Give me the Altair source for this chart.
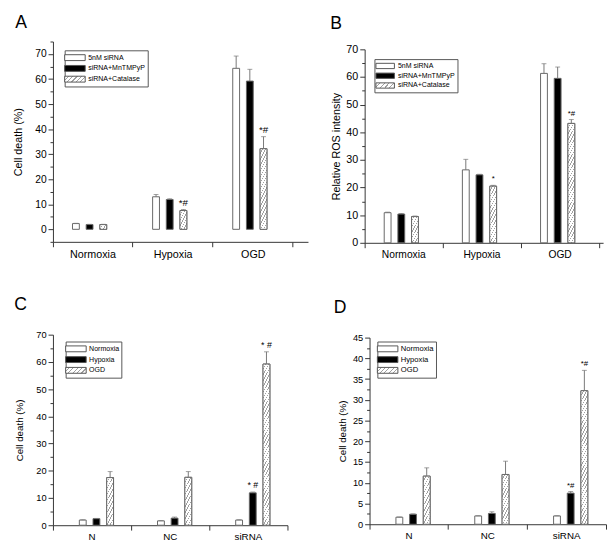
import json
import altair as alt

FONT = "Liberation Sans"
AXC = "#333333"
EDGE = "#666666"
ERRC = "#777777"
HATCH = "#a0a0a0"

# ---------------- data ----------------
# Panel A : cell death (%)
a_groups = ["Normoxia", "Hypoxia", "OGD"]
a_series = ["5nM siRNA", "siRNA+MnTMPyP", "siRNA+Catalase"]
a_sirna = [2.3, 13.0, 64.3]
a_sirna_err = [0.1, 0.9, 4.9]
a_mntmpyp = [1.9, 11.9, 59.2]
a_mntmpyp_err = [0.1, 0.3, 4.7]
a_catalase = [1.9, 7.5, 32.2]
a_catalase_err = [0.1, 0.4, 4.8]
a_catalase_ann = ["", "*#", "*#"]

# Panel B : relative ROS intensity
b_groups = ["Normoxia", "Hypoxia", "OGD"]
b_series = ["5nM siRNA", "siRNA+MnTMPyP", "siRNA+Catalase"]
b_sirna = [10.9, 26.4, 61.3]
b_sirna_err = [0.2, 3.8, 3.5]
b_mntmpyp = [10.4, 24.6, 59.5]
b_mntmpyp_err = [0.2, 0.2, 4.1]
b_catalase = [9.5, 20.5, 43.2]
b_catalase_err = [0.2, 0.3, 1.4]
b_catalase_ann = ["", "*", "*#"]

# Panel C : cell death (%)
c_groups = ["N", "NC", "siRNA"]
c_series = ["Normoxia", "Hypoxia", "OGD"]
c_normoxia = [1.9, 1.6, 1.9]
c_normoxia_err = [0.1, 0.1, 0.1]
c_hypoxia = [2.4, 2.6, 11.9]
c_hypoxia_err = [0.1, 0.4, 0.3]
c_ogd = [17.5, 17.6, 59.2]
c_ogd_err = [2.2, 2.1, 4.5]
c_hypoxia_ann = ["", "", "* #"]
c_ogd_ann = ["", "", "* #"]

# Panel D : cell death (%)
d_groups = ["N", "NC", "siRNA"]
d_series = ["Normoxia", "Hypoxia", "OGD"]
d_normoxia = [1.7, 2.0, 2.0]
d_normoxia_err = [0.05, 0.05, 0.05]
d_hypoxia = [2.4, 2.6, 7.5]
d_hypoxia_err = [0.1, 0.4, 0.4]
d_ogd = [11.6, 12.0, 32.2]
d_ogd_err = [2.0, 3.2, 4.9]
d_hypoxia_ann = ["", "", "*#"]
d_ogd_ann = ["", "", "*#"]


# ---------------- helpers ----------------
def hatch(w, h, period=6.0, line_frac=0.25):
    """Diagonal '/' hatch as a bounding-box linear gradient with hard stops."""
    ux, uy = 1.0 / h, 1.0 / w
    t = (ux + uy) / (ux * ux + uy * uy)
    n = max(1, int(round((w + h) / period)))
    stops = []
    for i in range(n):
        a = i / n
        b = (i + 1 - line_frac) / n
        c = (i + 1) / n
        stops += [
            {"offset": round(a, 5), "color": "white"},
            {"offset": round(b, 5), "color": "white"},
            {"offset": round(b, 5), "color": HATCH},
            {"offset": round(c, 5), "color": HATCH},
        ]
    return {"gradient": "linear", "x1": 0, "y1": 0,
            "x2": round(t * ux, 6), "y2": round(t * uy, 6), "stops": stops}


def panel(letter, groups, series, cols, errs, anns, hatched, y_domain, y_major,
          y_minor, y_title, W, H, top_gap, outer, bw, xlab, ylab, ttl, ann_size,
          leg, title_dx, title_off, y_title_pad):
    step = W / (len(groups) + 2 * outer)
    lo = (step - len(series) * bw) / 2
    hi = lo + len(series) * bw
    ppu = (H - top_gap) / (y_domain[1] - y_domain[0])
    rows = []
    for s, vals, ers, an in zip(series, cols, errs, anns):
        for g, v, e, t in zip(groups, vals, ers, an):
            fill = hatch(bw, v * ppu) if s == hatched else ("white" if s == series[0] else "black")
            rows.append({"group": g, "series": s, "value": v, "err": e,
                         "top": v + e, "ann": t, "fillv": fill})
    data = alt.Data(values=rows)

    leg_grad = hatch(leg["sw"], leg["sh"], period=4.5)
    leg_expr = "(" + json.dumps(leg_grad) + ")"

    xscale = alt.Scale(paddingInner=0, paddingOuter=outer, align=0)
    xaxis = alt.Axis(labelAngle=0, labelFont=FONT, labelFontSize=xlab,
                     labelColor="black", tickSize=5, tickColor=AXC,
                     domainColor=AXC, labelPadding=2, domain=True,
                     bandPosition=1, tickExtra=True, title=None)
    yaxis = alt.Axis(values=y_major, tickSize=5, tickColor=AXC,
                     domain=True, domainColor=AXC, labelOverlap=False,
                     labelFont=FONT, labelFontSize=ylab,
                     labelColor="black", labelPadding=2, title=y_title,
                     titleFont=FONT, titleFontSize=ttl,
                     titleFontWeight="normal", titleColor="black",
                     titlePadding=y_title_pad, orient="left")
    xenc = alt.X("group:N", sort=groups, scale=xscale, axis=xaxis)
    xoff = alt.XOffset("series:N", sort=series,
                       scale=alt.Scale(paddingInner=0, paddingOuter=0, range=[lo, hi]))
    yscale = alt.Scale(domain=y_domain, nice=False, zero=False, range=[H, top_gap])

    def yenc(field):
        return alt.Y(field, type="quantitative", scale=yscale, axis=yaxis)

    base = alt.Chart(data)
    bars = base.mark_bar(stroke=EDGE, strokeWidth=1).encode(
        x=xenc, xOffset=xoff, y=yenc("value"),
        fill=alt.Fill("series:N", sort=series,
                      scale=alt.Scale(domain=series,
                                      range=["white", "black", alt.ExprRef(expr=leg_expr)]),
                      legend=alt.Legend(
                          title=None, orient="none", legendX=leg["x"], legendY=leg["y"],
                          strokeColor="#555555", fillColor="white",
                          padding=leg["pad"], rowPadding=leg["rowpad"],
                          symbolType=leg["path"], symbolSize=leg["size"],
                          symbolStrokeColor="#555555", symbolStrokeWidth=1,
                          symbolOffset=leg["soff"], labelOffset=leg["loff"],
                          labelFont=FONT, labelFontSize=leg["fs"], labelColor="black",
                          cornerRadius=0)),
    )
    hatch_bars = base.mark_bar(stroke=EDGE, strokeWidth=1).encode(
        x=xenc, xOffset=xoff, y=yenc("value"),
        fill=alt.Fill("fillv:N", scale=None, legend=None),
    ).transform_filter(alt.datum.series == hatched)
    rules = base.mark_rule(color=ERRC, strokeWidth=1).encode(
        x=xenc, xOffset=xoff, y=yenc("value"), y2="top:Q",
    )
    caps = base.mark_tick(orient="horizontal", size=5, thickness=1, color=ERRC).encode(
        x=xenc, xOffset=xoff, y=yenc("top"),
    )
    texts = base.mark_text(font=FONT, fontSize=ann_size, baseline="alphabetic",
                           dy=-4, color="black").encode(
        x=xenc, xOffset=xoff, y=yenc("top"), text="ann:N",
    )
    main = alt.layer(bars, hatch_bars, rules, caps, texts)
    minor = base.mark_point(opacity=0, size=0).encode(
        y=alt.Y("value:Q", scale=yscale, title=None,
                axis=alt.Axis(values=y_minor, labels=False, domain=False,
                              tickSize=3, tickColor=AXC, orient="left", grid=False)),
    )
    ch = alt.layer(main, minor).resolve_axis(y="independent").properties(
        width=W, height=H,
        title=alt.TitleParams(text=letter, anchor="start", font=FONT, fontSize=18,
                              fontWeight="normal", color="black", dx=title_dx,
                              offset=title_off),
    )
    return ch


leg_path = "M-2.1,-0.6H2.1V0.6H-2.1Z"

A = panel("A", a_groups, a_series,
          [a_sirna, a_mntmpyp, a_catalase],
          [a_sirna_err, a_mntmpyp_err, a_catalase_err],
          [["", "", ""], ["", "", ""], a_catalase_ann], a_series[2],
          [-5, 75], list(range(0, 71, 10)), list(range(-5, 76, 10)),
          "Cell death (%)", 261, 205, 0, 0.0915, 14, 11, 10.5, 11, 10,
          dict(x=12, y=9, pad=2, rowpad=0, path=leg_path, size=100, soff=3,
               loff=8, fs=7.2, sw=21, sh=6), 3, 9, 12)
B = panel("B", b_groups, b_series,
          [b_sirna, b_mntmpyp, b_catalase],
          [b_sirna_err, b_mntmpyp_err, b_catalase_err],
          [["", "", ""], ["", "", ""], b_catalase_ann], b_series[2],
          [0, 70], list(range(0, 71, 10)), list(range(5, 70, 10)),
          "Relative ROS intensity", 244, 206, 8, 0.025, 13.3, 10.5, 11, 11, 8,
          dict(x=10, y=18, pad=2, rowpad=0, path=leg_path, size=81, soff=4,
               loff=8, fs=7.2, sw=19, sh=5), 0, 9, 5)
C = panel("C", c_groups, c_series,
          [c_normoxia, c_hypoxia, c_ogd],
          [c_normoxia_err, c_hypoxia_err, c_ogd_err],
          [["", "", ""], c_hypoxia_ann, c_ogd_ann], c_series[2],
          [0, 70], list(range(0, 71, 10)), list(range(5, 70, 10)),
          "Cell death (%)", 240, 195, 0, 0.0, 13.3, 10, 9.5, 10, 9,
          dict(x=13, y=7, pad=2, rowpad=0, path=leg_path, size=100, soff=3,
               loff=8, fs=7.2, sw=21, sh=6), 0, 16, 12)
D = panel("D", d_groups, d_series,
          [d_normoxia, d_hypoxia, d_ogd],
          [d_normoxia_err, d_hypoxia_err, d_ogd_err],
          [["", "", ""], d_hypoxia_ann, d_ogd_ann], d_series[2],
          [0, 45], list(range(0, 46, 5)), [x + 2.5 for x in range(0, 45, 5)],
          "Cell death (%)", 242, 194, 3, 0.0, 13.4, 10, 9.5, 10, 8,
          dict(x=8, y=7, pad=2, rowpad=0, path=leg_path, size=100, soff=3,
               loff=8, fs=7.8, sw=21, sh=6), -4, 16, 5)

row1 = alt.concat(A, B, columns=2, spacing=22).properties(align="none").resolve_scale(
    fill="independent")
row2 = alt.concat(C, D, columns=2, spacing=46).properties(align="none").resolve_scale(
    fill="independent")

chart = alt.vconcat(row1, row2, spacing=37).resolve_scale(fill="independent").properties(
    padding={"left": 4, "top": 0, "right": 0, "bottom": 0}
).configure_view(stroke=None).configure_axis(grid=False)

chart.save("out.html", embed_options={"renderer": "svg", "actions": False})
